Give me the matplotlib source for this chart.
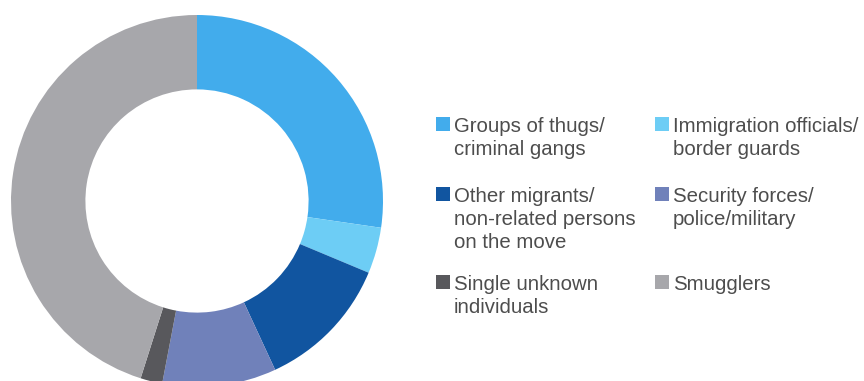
import matplotlib
matplotlib.use('Agg')
import matplotlib.pyplot as plt
from matplotlib.patches import Rectangle

# share of reported perpetrators (%), clockwise from 12 o'clock
labels = ["Groups of thugs/\ncriminal gangs",
          "Immigration officials/\nborder guards",
          "Other migrants/\nnon-related persons\non the move",
          "Security forces/\npolice/military",
          "Single unknown\nindividuals",
          "Smugglers"]
values = [27.3, 4.0, 11.8, 9.9, 1.9, 45.1]
colors = ["#42acec", "#6dcdf5", "#1155a0", "#7081ba", "#58585c", "#a7a7ab"]

W, H = 864, 381
fig = plt.figure(figsize=(W / 100, H / 100), dpi=100)

# donut: centre (197, 201) px from top-left, outer radius 186 px
cx, cy, R = 197, 201, 186
ax = fig.add_axes([(cx - R) / W, (H - cy - R) / H, 2 * R / W, 2 * R / H])
ax.pie(values, colors=colors, startangle=90, counterclock=False, radius=1,
       wedgeprops=dict(width=0.4, linewidth=0))
ax.set_xlim(-1, 1)
ax.set_ylim(-1, 1)
ax.set_aspect('equal')
ax.axis('off')

# legend laid out by hand: two columns, three rows
col_x = [436, 655]
row_base = [132, 202, 290]
line_gap = 23
sq = 14
txt_color = "#4d4d4d"

for i, lab in enumerate(labels):
    col = i % 2
    row = i // 2
    x0 = col_x[col]
    base = row_base[row]
    fig.patches.append(Rectangle((x0 / W, (H - base + 1) / H), sq / W, sq / H,
                                 transform=fig.transFigure, facecolor=colors[i],
                                 edgecolor='none'))
    for j, line in enumerate(lab.split("\n")):
        fig.text((x0 + 18) / W, (H - base - j * line_gap) / H, line,
                 fontsize=14.7, family="Liberation Sans", color=txt_color,
                 ha='left', va='baseline')

fig.savefig("out.png", dpi=100)
